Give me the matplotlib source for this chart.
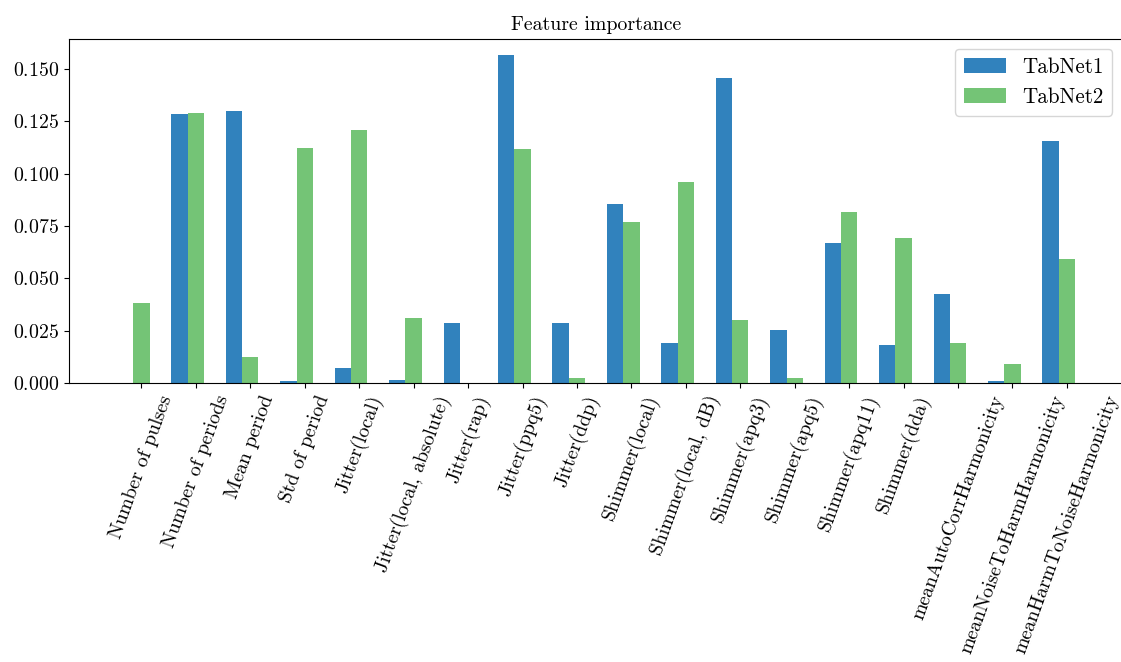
import numpy as np
import matplotlib
matplotlib.use("Agg")
import matplotlib.pyplot as plt

plt.rcParams["font.family"] = ["cmr10", "DejaVu Serif"]
plt.rcParams["mathtext.fontset"] = "cm"
plt.rcParams["axes.formatter.use_mathtext"] = True
plt.rcParams["axes.unicode_minus"] = False

features = [
    "Number of pulses", "Number of periods", "Mean period", "Std of period",
    "Jitter(local)", "Jitter(local, absolute)", "Jitter(rap)", "Jitter(ppq5)",
    "Jitter(ddp)", "Shimmer(local)", "Shimmer(local, dB)", "Shimmer(apq3)",
    "Shimmer(apq5)", "Shimmer(apq11)", "Shimmer(dda)",
    "meanAutoCorrHarmonicity", "meanNoiseToHarmHarmonicity",
    "meanHarmToNoiseHarmonicity",
]

tabnet1 = [0.0, 0.1285, 0.1299, 0.0010, 0.0072, 0.0013, 0.0285, 0.1567,
           0.0285, 0.0854, 0.0193, 0.1456, 0.0253, 0.0670, 0.0180, 0.0427,
           0.0008, 0.1155]
tabnet2 = [0.0381, 0.1288, 0.0124, 0.1123, 0.1207, 0.0311, 0.0, 0.1116,
           0.0022, 0.0769, 0.0959, 0.0301, 0.0022, 0.0818, 0.0693, 0.0191,
           0.0089, 0.0592]

fs = 14.3

fig = plt.figure(figsize=(11.21, 6.62), dpi=100)
ax = fig.add_axes([69 / 1121, 1 - 383 / 662, (1123 - 69) / 1121, (383 - 38.5) / 662])

x = np.arange(len(features))
w = 0.3
ax.bar(x - w, tabnet1, width=w, color="#3182bd", label="TabNet1")
ax.bar(x, tabnet2, width=w, color="#74c476", label="TabNet2")

ax.set_xticks(x)
ax.set_xticklabels(features, rotation=70, ha="center", fontsize=fs)
ax.tick_params(axis="y", labelsize=fs)
ax.set_title("Feature importance", fontsize=fs)
ax.legend(fontsize=15.2, loc="upper right")

fig.savefig("out.png", dpi=100)
